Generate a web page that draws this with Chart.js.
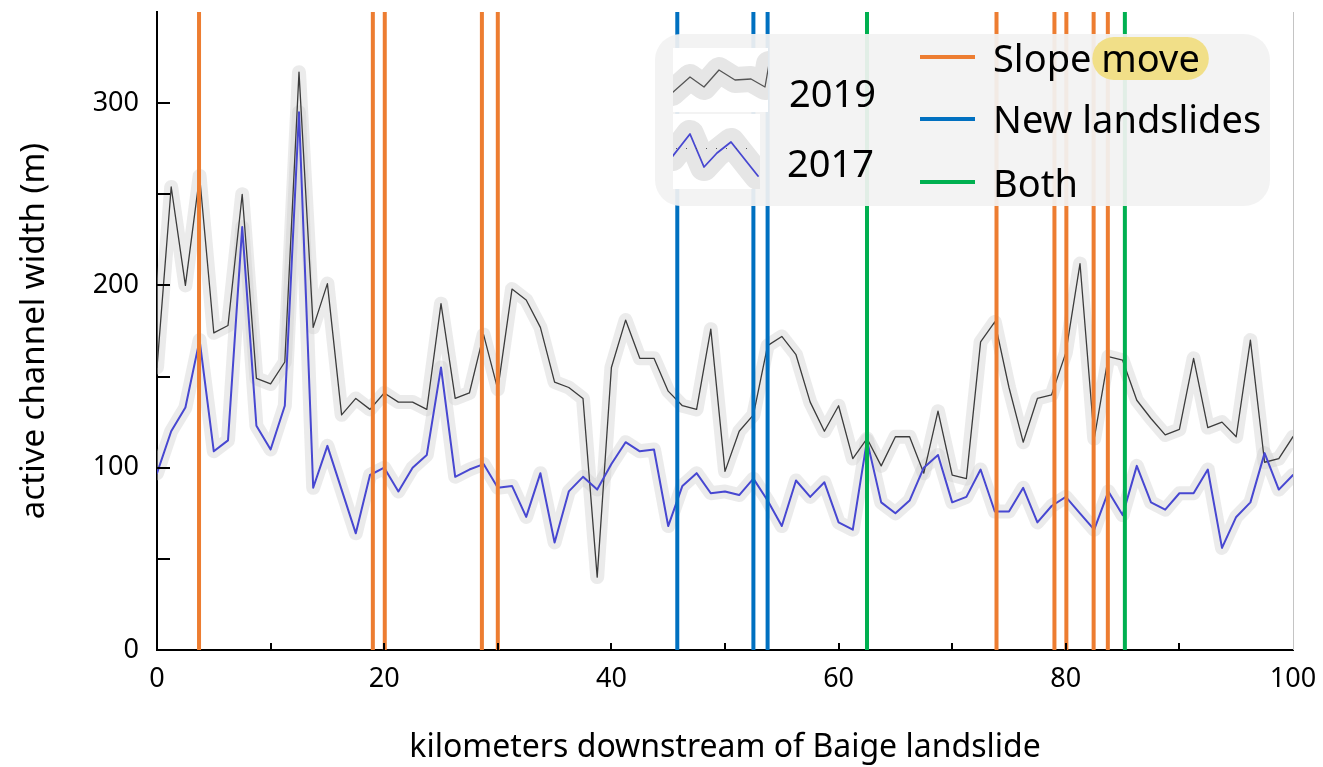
<!DOCTYPE html>
<html>
<head>
<meta charset="utf-8">
<title>active channel width downstream of Baige landslide</title>
<script src="https://cdn.jsdelivr.net/npm/chart.js@4.4.1/dist/chart.umd.min.js"></script>
<style>
  html, body { margin: 0; padding: 0; background: #fff; }
  #wrap { width: 1323px; height: 767px; position: relative; }
</style>
</head>
<body>
<div id="wrap"><canvas id="chart"></canvas></div>
<script>
// Sample positions along the river (km downstream of the landslide).
const KM = [
  0, 1.25, 2.5, 3.75, 5, 6.25, 7.5, 8.75, 10, 11.25,
  12.5, 13.75, 15, 16.25, 17.5, 18.75, 20, 21.25, 22.5, 23.75,
  25, 26.25, 27.5, 28.75, 30, 31.25, 32.5, 33.75, 35, 36.25,
  37.5, 38.75, 40, 41.25, 42.5, 43.75, 45, 46.25, 47.5, 48.75,
  50, 51.25, 52.5, 53.75, 55, 56.25, 57.5, 58.75, 60, 61.25,
  62.5, 63.75, 65, 66.25, 67.5, 68.75, 70, 71.25, 72.5, 73.75,
  75, 76.25, 77.5, 78.75, 80, 81.25, 82.5, 83.75, 85, 86.25,
  87.5, 88.75, 90, 91.25, 92.5, 93.75, 95, 96.25, 97.5, 98.75,
  100,
];

// Active channel width (m).
const WIDTH_2019 = [
  155, 254, 200, 260, 174, 178, 250, 149, 146, 158,
  317, 177, 201, 129, 138, 132, 141, 136, 136, 132,
  190, 138, 141, 173, 143, 198, 192, 177, 147, 144,
  138, 40, 155, 181, 160, 160, 142, 134, 132, 176,
  98, 120, 129, 167, 172, 162, 136, 120, 134, 105,
  116, 101, 117, 117, 97, 131, 96, 94, 169, 180,
  144, 114, 138, 140, 163, 212, 116, 161, 159, 137,
  127, 118, 121, 160, 122, 125, 117, 170, 103, 105,
  117,
];
const WIDTH_2017 = [
  97, 120, 133, 170, 109, 115, 232, 123, 110, 134,
  295, 89, 112, 88, 64, 96, 100, 87, 100, 107,
  155, 95, 99, 102, 89, 90, 73, 97, 59, 87,
  95, 88, 102, 114, 109, 110, 68, 90, 97, 86,
  87, 85, 94, 82, 68, 93, 84, 92, 70, 66,
  115, 81, 75, 82, 100, 107, 81, 84, 99, 76,
  76, 89, 70, 79, 84, 75, 66, 87, 74, 101,
  81, 77, 86, 86, 99, 56, 73, 81, 108, 88,
  96,
];

// Where hillslope changes were mapped (km).
const SLOPE_MOVE_KM = [3.7, 19.0, 20.05, 28.6, 30.0, 73.9, 79.0, 80.05, 82.45, 83.7];
const NEW_LANDSLIDES_KM = [45.8, 52.5, 53.75];
const BOTH_KM = [62.5, 85.2];

const X_MIN = 0, X_MAX = 100, X_STEP = 10, X_LABEL_EVERY = 20;
const Y_MIN = 0, Y_MAX = 350, Y_STEP = 50, Y_LABEL_EVERY = 100;

const FONT = '"Noto Sans", "Open Sans", sans-serif';
const C = {
  slope: '#ED7D31',
  fresh: '#0070C0',
  both:  '#00B050',
  line19: '#3c3c3c',
  line17: '#4747d1',
  band:  'rgba(205,205,205,0.4)',
};

const series = (vals) => vals.map((v, i) => ({ x: KM[i], y: v }));

// One dataset per category: a vertical segment per km, broken by null gaps.
function verticals(kms) {
  const pts = [];
  kms.forEach(k => pts.push({ x: k, y: Y_MIN }, { x: k, y: Y_MAX }, { x: k, y: null }));
  return pts;
}

// inward tick marks + faint right frame
const frameTicks = {
  id: 'frameTicks',
  afterDatasetsDraw(chart) {
    const { ctx, chartArea: a, scales: { x, y } } = chart;
    ctx.save();
    ctx.strokeStyle = '#000';
    ctx.lineWidth = 2;
    y.ticks.forEach(t => {
      if (t.value <= Y_MIN || t.value >= Y_MAX) return;
      const py = Math.round(y.getPixelForValue(t.value));
      ctx.beginPath(); ctx.moveTo(a.left, py); ctx.lineTo(a.left + 13, py); ctx.stroke();
    });
    x.ticks.forEach(t => {
      if (t.value <= X_MIN || t.value >= X_MAX) return;
      const px = Math.round(x.getPixelForValue(t.value));
      ctx.beginPath(); ctx.moveTo(px, a.bottom); ctx.lineTo(px, a.bottom - 7); ctx.stroke();
    });
    ctx.strokeStyle = '#c4c4c4';
    ctx.lineWidth = 1;
    ctx.beginPath(); ctx.moveTo(a.right + 0.5, a.top); ctx.lineTo(a.right + 0.5, a.bottom); ctx.stroke();
    ctx.restore();
  },
};

// legend panel drawn over the plot (translucent, lines show through faintly)
const legendPanel = {
  id: 'legendPanel',
  afterDraw(chart) {
    const ctx = chart.ctx;
    ctx.save();
    ctx.fillStyle = 'rgba(242,242,242,0.93)';
    ctx.beginPath(); ctx.roundRect(655, 34, 615, 172, 26); ctx.fill();

    const thumb = (bx, by, bw, bh, pts, color, lw, bandW) => {
      ctx.save();
      ctx.fillStyle = '#fff';
      ctx.fillRect(bx, by, bw, bh);
      ctx.beginPath(); ctx.rect(bx, by, bw, bh); ctx.clip();
      ctx.lineJoin = 'round'; ctx.lineCap = 'round';
      ctx.beginPath();
      pts.forEach(([px, py], i) => i ? ctx.lineTo(px, py) : ctx.moveTo(px, py));
      ctx.strokeStyle = '#e6e6e6'; ctx.lineWidth = bandW; ctx.stroke();
      ctx.strokeStyle = color; ctx.lineWidth = lw; ctx.stroke();
      ctx.restore();
    };
    thumb(673, 48, 95, 64,
      [[672, 93], [690, 77], [704, 87], [719, 70], [735, 80], [751, 79], [765, 87], [769, 64]],
      '#555', 1.3, 26);
    thumb(673, 114, 87, 75,
      [[672, 157], [690, 134], [704, 167], [717, 153], [731, 142], [758, 176]],
      C.line17, 1.8, 28);
    ctx.save();
    ctx.setLineDash([1, 9]);
    ctx.strokeStyle = '#555'; ctx.lineWidth = 1;
    ctx.beginPath(); ctx.moveTo(676, 148.5); ctx.lineTo(752, 148.5); ctx.stroke();
    ctx.restore();

    ctx.fillStyle = '#000';
    ctx.textBaseline = 'alphabetic';
    ctx.font = '38px ' + FONT;
    ctx.fillText('2019', 789, 107);
    ctx.fillText('2017', 787, 177);

    const sw = (py, color) => {
      ctx.strokeStyle = color; ctx.lineWidth = 4;
      ctx.beginPath(); ctx.moveTo(920, py); ctx.lineTo(975, py); ctx.stroke();
    };
    sw(57, C.slope); sw(119, C.fresh); sw(182, C.both);

    const x0 = 993;
    const wSlope = ctx.measureText('Slope ').width;
    const wMove = ctx.measureText('move').width;
    ctx.fillStyle = '#f1df88';
    ctx.beginPath(); ctx.roundRect(x0 + wSlope - 9, 37, wMove + 18, 43, 21.5); ctx.fill();
    ctx.fillStyle = '#000';
    ctx.fillText('Slope', x0, 72);
    ctx.fillText('move', x0 + wSlope, 72);
    ctx.fillText('New landslides', x0, 133);
    ctx.fillText('Both', x0, 197);
    ctx.restore();
  },
};

function draw() {
  const line = (data, color, width, order) => ({
    data, borderColor: color, borderWidth: width, order,
    pointRadius: 0, pointHoverRadius: 0, tension: 0, fill: false,
    borderJoinStyle: 'round', borderCapStyle: 'round',
  });

  new Chart(document.getElementById('chart'), {
    type: 'line',
    data: {
      datasets: [
        line(series(WIDTH_2019), C.band, 14, 6),
        line(series(WIDTH_2017), C.band, 14, 5),
        line(series(WIDTH_2019), C.line19, 1.3, 4),
        line(series(WIDTH_2017), C.line17, 2, 3),
        { ...line(verticals(SLOPE_MOVE_KM), C.slope, 4, 1), borderCapStyle: 'butt', spanGaps: false },
        { ...line(verticals(NEW_LANDSLIDES_KM), C.fresh, 4, 1), borderCapStyle: 'butt', spanGaps: false },
        { ...line(verticals(BOTH_KM), C.both, 4, 1), borderCapStyle: 'butt', spanGaps: false },
      ],
    },
    options: {
      responsive: true,
      maintainAspectRatio: false,
      animation: false,
      events: [],
      layout: { padding: { left: 0, top: 12, right: 30, bottom: 0 } },
      plugins: { legend: { display: false }, tooltip: { enabled: false } },
      scales: {
        x: {
          type: 'linear', min: X_MIN, max: X_MAX, z: 1,
          border: { display: true, color: '#000', width: 2 },
          grid: { display: false, drawTicks: false },
          ticks: {
            stepSize: X_STEP, autoSkip: false, maxRotation: 0, padding: 13,
            color: '#000', font: { family: FONT, size: 27 },
            callback: v => (v % X_LABEL_EVERY === 0 ? v : ''),
          },
          title: {
            display: true, text: 'kilometers downstream of Baige landslide',
            color: '#000', font: { family: FONT, size: 32 }, padding: { top: 0, bottom: 0 },
          },
          afterFit: s => { s.height = 117; s.paddingLeft = 0; s.paddingRight = 0; },
        },
        y: {
          type: 'linear', min: Y_MIN, max: Y_MAX, z: 1,
          border: { display: true, color: '#000', width: 2 },
          grid: { display: false, drawTicks: false },
          ticks: {
            stepSize: Y_STEP, autoSkip: false, padding: 18,
            color: '#000', font: { family: FONT, size: 27 },
            callback: v => (v % Y_LABEL_EVERY === 0 ? v : ''),
          },
          title: {
            display: true, text: 'active channel width (m)',
            color: '#000', font: { family: FONT, size: 33 }, padding: { top: 15, bottom: 0 },
          },
          afterFit: s => { s.width = 157; s.paddingTop = 0; s.paddingBottom = 0; },
        },
      },
    },
    plugins: [frameTicks, legendPanel],
  });
}

if (document.fonts && document.fonts.load) {
  Promise.all([
    document.fonts.load('27px "Noto Sans"'),
    document.fonts.load('38px "Noto Sans"'),
  ]).then(draw, draw);
} else {
  draw();
}
</script>
</body>
</html>
